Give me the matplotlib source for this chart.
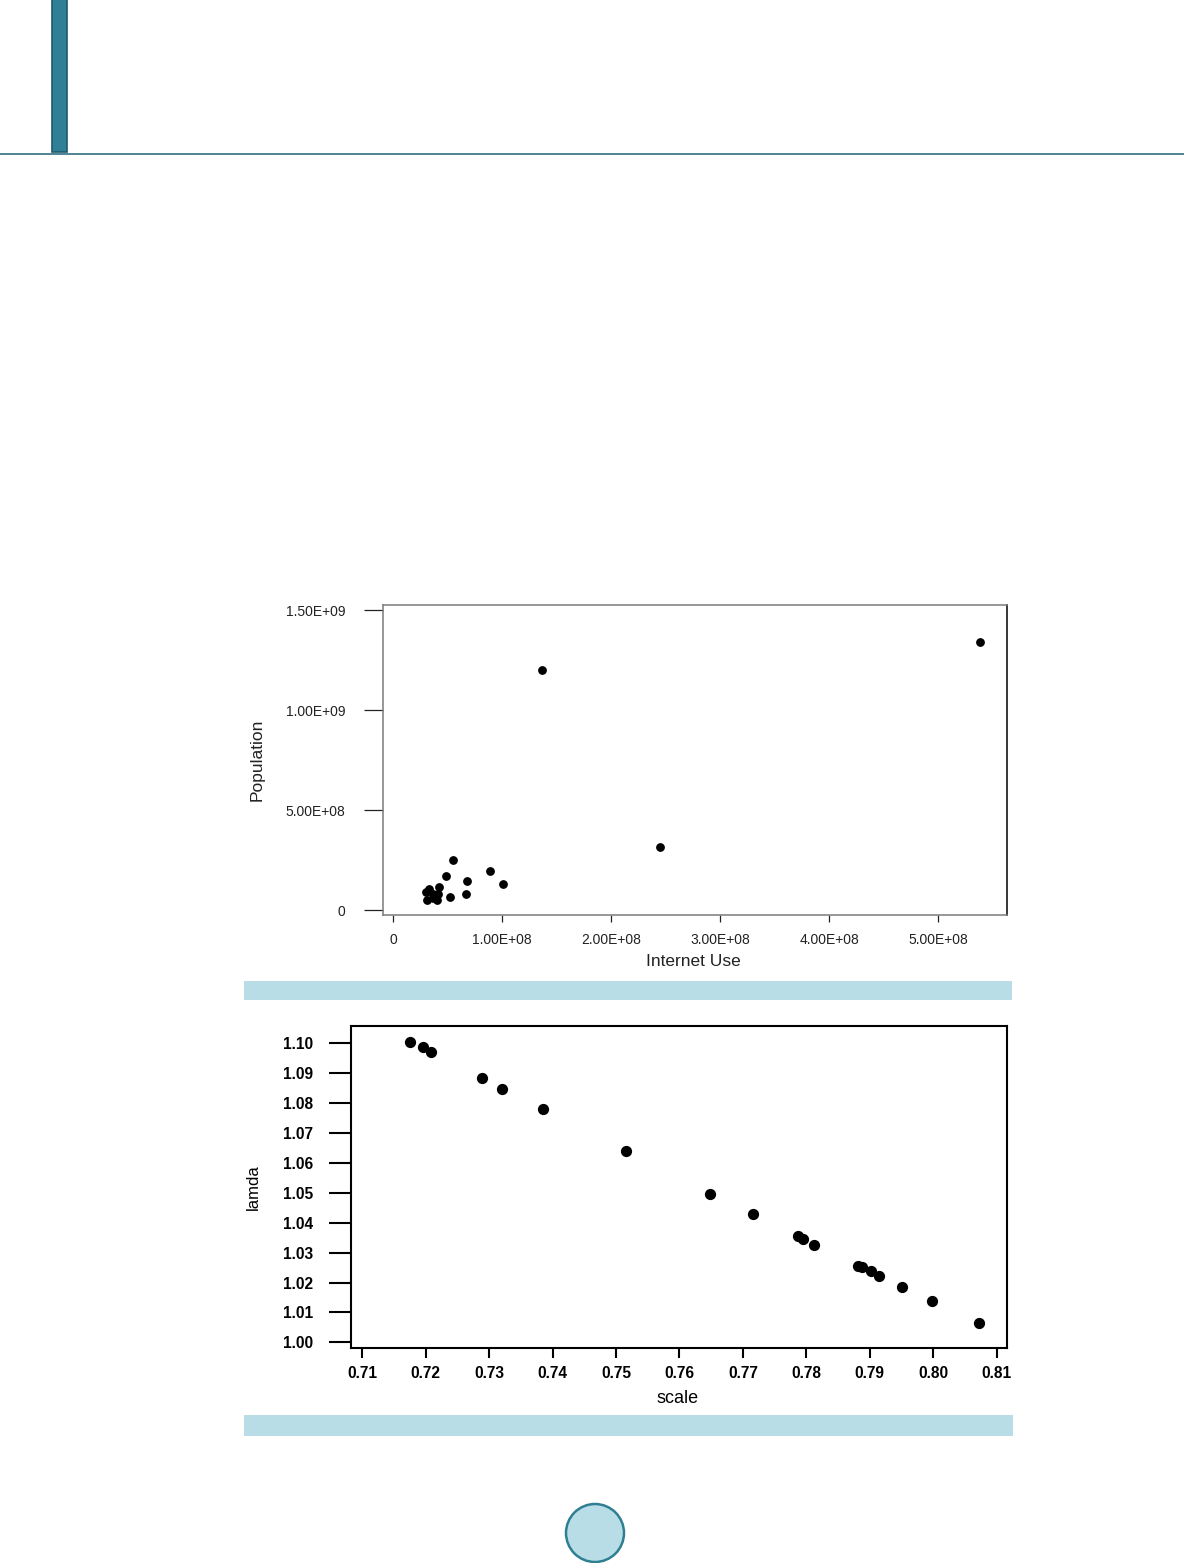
import matplotlib
matplotlib.use("Agg")
import matplotlib.pyplot as plt
from matplotlib.patches import Rectangle, Circle

plt.rcParams['font.family'] = ['Liberation Sans', 'DejaVu Sans']

# figure 1: internet use vs population
internet_use = [1.367e8, 5.385e8, 2.45e8, 0.548e8, 0.483e8, 0.89e8, 1.01e8,
                0.68e8, 0.673e8, 0.523e8, 0.42e8, 0.303e8, 0.333e8, 0.364e8,
                0.416e8, 0.315e8, 0.40e8, 0.37e8, 0.385e8]
population = [1.20e9, 1.34e9, 0.315e9, 0.25e9, 0.17e9, 0.197e9, 0.128e9,
              0.147e9, 0.082e9, 0.065e9, 0.117e9, 0.09e9, 0.103e9, 0.08e9,
              0.08e9, 0.05e9, 0.05e9, 0.058e9, 0.07e9]
x1_ticks = [0, 1e8, 2e8, 3e8, 4e8, 5e8]
x1_labels = ["0", "1.00E+08", "2.00E+08", "3.00E+08", "4.00E+08", "5.00E+08"]
y1_ticks = [0, 5e8, 1e9, 1.5e9]
y1_labels = ["0", "5.00E+08", "1.00E+09", "1.50E+09"]

# figure 2: scale vs lamda
scale = [0.71752, 0.71962, 0.72078, 0.72882, 0.73207, 0.73848, 0.75162,
         0.76481, 0.77163, 0.77863, 0.77942, 0.7812, 0.78809, 0.78872,
         0.79014, 0.7915, 0.79507, 0.79985, 0.80726]
lamda = [1.1005, 1.0987, 1.0970, 1.0885, 1.0848, 1.0780, 1.0639,
         1.0497, 1.0428, 1.0356, 1.0347, 1.0326, 1.0255, 1.0252,
         1.0238, 1.0222, 1.0186, 1.0137, 1.0066]
x2_ticks = [0.71, 0.72, 0.73, 0.74, 0.75, 0.76, 0.77, 0.78, 0.79, 0.80, 0.81]
y2_ticks = [1.00, 1.01, 1.02, 1.03, 1.04, 1.05, 1.06, 1.07, 1.08, 1.09, 1.10]

W, H = 1184, 1563
fig = plt.figure(figsize=(W / 100, H / 100), dpi=100)
fig.patch.set_facecolor("white")


def px_axes(left, top, right, bottom):
    return fig.add_axes([left / W, 1 - bottom / H, (right - left) / W, (bottom - top) / H])


# page decoration
bg = fig.add_axes([0, 0, 1, 1])
bg.set_xlim(0, W)
bg.set_ylim(H, 0)
bg.axis("off")
bg.add_patch(Rectangle((52, -2), 15, 154, facecolor="#2f8096", edgecolor="#1f5a6c", lw=1.2))
bg.plot([0, W], [154, 154], color="#3f7b8c", lw=1.3)
bg.add_patch(Rectangle((244, 981), 768, 19, facecolor="#b9dde7", edgecolor="none"))
bg.add_patch(Rectangle((244, 1415), 769, 21, facecolor="#b9dde7", edgecolor="none"))
bg.add_patch(Circle((595, 1533), 29, facecolor="#b9dde7", edgecolor="#2f7f92", lw=1.8))

# top scatter
ax1 = px_axes(383, 605, 1007, 915)
ax1.scatter(internet_use, population, s=28, color="black", zorder=3)
ax1.set_xlim(-9.2e6, 5.633e8)
ax1.set_ylim(-0.025e9, 1.525e9)
ax1.set_xticks(x1_ticks)
ax1.set_xticklabels(x1_labels)
ax1.set_yticks(y1_ticks)
ax1.set_yticklabels(y1_labels)
for side in ["left", "top", "bottom"]:
    ax1.spines[side].set_color("#7a7a7a")
ax1.spines["right"].set_color("black")
for s in ax1.spines.values():
    s.set_linewidth(1.1)
ax1.tick_params(axis="y", length=14, width=0.9, pad=13, labelsize=10, colors="#222222")
ax1.tick_params(axis="x", length=5, width=0.9, pad=8, labelsize=10, colors="#222222")
ax1.set_xlabel("Internet Use", fontsize=12.5, color="#222222")
ax1.set_ylabel("Population", fontsize=12.5, color="#222222")
ax1.xaxis.set_label_coords(0.498, -0.125)
ax1.yaxis.set_label_coords(-0.19, 0.5)

# bottom scatter
ax2 = px_axes(351, 1026, 1007, 1348)
ax2.scatter(scale, lamda, s=50, color="black", zorder=3)
ax2.set_xlim(0.70822, 0.81163)
ax2.set_ylim(0.9981, 1.1058)
ax2.set_xticks(x2_ticks)
ax2.set_xticklabels([f"{v:.2f}" for v in x2_ticks])
ax2.set_yticks(y2_ticks)
ax2.set_yticklabels([f"{v:.2f}" for v in y2_ticks])
for s in ax2.spines.values():
    s.set_linewidth(1.5)
    s.set_color("black")
ax2.tick_params(axis="y", length=15.5, width=1.5, pad=12, labelsize=11.2)
ax2.tick_params(axis="x", length=7, width=1.5, pad=6, labelsize=11.2)
for lab in ax2.get_xticklabels() + ax2.get_yticklabels():
    lab.set_fontweight("bold")
ax2.set_xlabel("scale", fontsize=13)
ax2.set_ylabel("lamda", fontsize=12)
ax2.xaxis.set_label_coords(0.498, -0.13)
ax2.yaxis.set_label_coords(-0.137, 0.5)

fig.savefig("out.png", dpi=100)
